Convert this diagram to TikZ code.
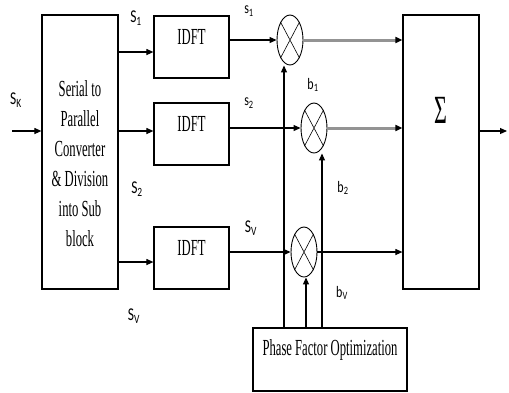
\documentclass[tikz,border=0pt]{standalone}
\usepackage{fontspec}
\setmainfont{Liberation Serif}
\newfontfamily\narrowserif[FakeStretch=0.55]{Liberation Serif}
\newfontfamily\narrowsans[FakeStretch=0.75]{Carlito}
\usetikzlibrary{arrows.meta,positioning,shapes.geometric}

\begin{document}
\begin{tikzpicture}[x=1pt,y=-1pt,
  blk/.style={draw,line width=1.2pt,inner sep=0pt},
  boxtxt/.style={font=\narrowserif\fontsize{23}{30}\selectfont,align=center,inner sep=0pt},
  mixer/.style={ellipse,draw,line width=0.9pt,minimum width=26pt,minimum height=50pt,inner sep=0pt},
  sig/.style={font=\narrowsans\fontsize{18}{20}\selectfont,inner sep=0pt},
  ssig/.style={font=\narrowsans\fontsize{16}{18}\selectfont,inner sep=0pt},
  flow/.style={-{Triangle[length=7pt,width=6pt]},line width=1.1pt},
  gflow/.style={-{Triangle[length=7pt,width=6pt,black]},line width=3pt,draw=gray!85}
]
\useasboundingbox (0,0) rectangle (509,392);
% blocks
\node[blk,minimum width=76pt,minimum height=274pt,
  label={[boxtxt,yshift=-12pt]center:{Serial to\\Parallel\\Converter\\\& Division\\into Sub\\block}}] (sp) at (80,152) {};
\node[blk,minimum width=75pt,minimum height=62pt,label={[boxtxt,yshift=10pt]center:IDFT}] (i1) at (191.5,47) {};
\node[blk,minimum width=75pt,minimum height=62pt,label={[boxtxt,yshift=10pt]center:IDFT}] (i2) at (191.5,134) {};
\node[blk,minimum width=75pt,minimum height=62pt,label={[boxtxt,yshift=10pt]center:IDFT}] (i3) at (191.5,258) {};
\node[blk,minimum width=76pt,minimum height=274pt,
  label={[boxtxt,font=\narrowserif\fontsize{40}{40}\selectfont,yshift=42pt]center:Σ}] (sg) at (441,152) {};
\node[blk,minimum width=154pt,minimum height=63pt,
  label={[boxtxt,yshift=10pt]center:Phase Factor Optimization}] (ph) at (330,359.5) {};
% multipliers
\node[mixer] (m1) at (290,40) {};
\node[mixer] (m2) at (314,128) {};
\node[mixer] (m3) at (304,252) {};
\foreach \m in {m1,m2,m3}
  \draw[line width=0.6pt] (\m.north west) -- (\m.south east) (\m.north east) -- (\m.south west);
% labels
\node[sig] (lsk) at (16,100) {S\textsubscript{K}};
\node[sig] (ls1) at (136,18) {S\textsubscript{1}};
\node[sig] (ls2) at (137,189) {S\textsubscript{2}};
\node[sig] (lsv) at (134,316) {S\textsubscript{V}};
\node[ssig] (ms1) at (249,11) {s\textsubscript{1}};
\node[ssig] (ms2) at (249,103) {s\textsubscript{2}};
\node[sig] (msv) at (251,228) {S\textsubscript{V}};
\node[ssig] (lb1) at (313,85) {b\textsubscript{1}};
\node[ssig] (lb2) at (343,188) {b\textsubscript{2}};
\node[ssig] (lbv) at (342,293) {b\textsubscript{V}};
% connectors
\coordinate (in) at (12,131);
\coordinate (out) at (507,131);
\coordinate (a1) at ([yshift=-5pt]i1.west);
\coordinate (a2) at ([yshift=3pt]i2.west);
\coordinate (a3) at ([yshift=-4pt]i3.west);
\draw[flow] (in) -- (sp.west |- in);
\draw[flow] (sp.east |- a1) -- (a1);
\draw[flow] (sp.east |- a2) -- (a2);
\draw[flow] (sp.east |- a3) -- (a3);
\draw[flow] (i1.east |- m1.west) -- (m1.west);
\draw[flow] (i2.east |- m2.west) -- (m2.west);
\draw[flow] (i3.east |- m3.west) -- (m3.west);
\draw[gflow] (m1.east) -- (m1.east -| sg.west);
\draw[gflow] (m2.east) -- (m2.east -| sg.west);
\draw[flow] (m3.east) -- (m3.east -| sg.west);
\draw[flow] ([xshift=-6pt]m1.south |- ph.north) -- ([xshift=-6pt]m1.south);
\draw[flow] ([xshift=8pt]m2.south |- ph.north) -- ([xshift=8pt]m2.south);
\draw[flow] ([xshift=2pt]m3.south |- ph.north) -- ([xshift=2pt]m3.south);
\draw[flow] (sg.east |- out) -- (out);
\end{tikzpicture}
\end{document}
